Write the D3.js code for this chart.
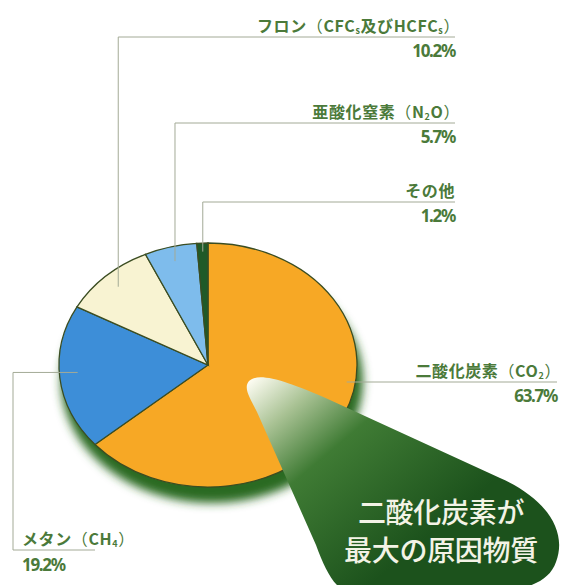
<!DOCTYPE html>
<html>
<head>
<meta charset="utf-8">
<script src="https://cdn.jsdelivr.net/npm/d3@7"></script>
<style>
  body { margin: 0; background: #fff; }
  svg { display: block; }
  .lbl { font-family: "Noto Sans CJK JP", sans-serif; font-weight: 700; fill: #4b7a3a; }
  .pct { font-family: "Noto Sans", sans-serif; font-weight: 700; fill: #4b7a3a; }
</style>
</head>
<body>
<div id="chart"></div>
<script>
// data (order = clockwise from 12 o'clock)
const names = ["二酸化炭素", "メタン", "フロン", "亜酸化窒素", "その他"];
const formulas = [["CO", "2"], ["CH", "4"], ["CFC", "s", "及びHCFC", "s"], ["N", "2", "O"], null];
const values = [63.7, 19.2, 10.2, 5.7, 1.2];
const colors = ["#f7a825", "#3d8ed8", "#f8f3d2", "#7ebcec", "#1f5a28"];
const calloutLines = ["二酸化炭素が", "最大の原因物質"];

var width = 561, height = 585;
var cx = 208, cy = 365, rx = 149, ry = 122;

var svg = d3.select("#chart").append("svg")
    .attr("width", width)
    .attr("height", height);

var defs = svg.append("defs");
var blur = defs.append("filter").attr("id", "blur")
    .attr("x", "-20%").attr("y", "-20%").attr("width", "140%").attr("height", "140%");
blur.append("feGaussianBlur").attr("stdDeviation", 5);

var grad = defs.append("linearGradient").attr("id", "bubble")
    .attr("gradientUnits", "userSpaceOnUse")
    .attr("x1", 250).attr("y1", 382).attr("x2", 400).attr("y2", 560);
[[0, "#fbfbf0"], [0.2, "#a9c294"], [0.45, "#3f7b34"], [1, "#1c521c"]].forEach(function (s) {
    grad.append("stop").attr("offset", s[0]).attr("stop-color", s[1]);
});

// shadow under the pie
svg.append("ellipse")
    .attr("cx", cx + 4).attr("cy", cy + 16)
    .attr("rx", rx + 2).attr("ry", ry)
    .attr("fill", "#2c6a22")
    .attr("filter", "url(#blur)");

var pie = d3.pie().sort(null).value(function (d) { return d; });
var arcs = pie(values);
var arc = d3.arc().innerRadius(0).outerRadius(ry);

var pg = svg.append("g")
    .attr("transform", "translate(" + cx + "," + cy + ") scale(" + (rx / ry) + ",1)");

pg.selectAll("path")
    .data(arcs)
    .enter().append("path")
    .attr("d", arc)
    .attr("fill", function (d, i) { return colors[i]; })
    .attr("stroke", "#3b4d22")
    .attr("stroke-width", 1.3)
    .attr("vector-effect", "non-scaling-stroke");

// point on the ellipse at slice angle a, fraction f of radius
function onPie(a, f) {
    return [cx + rx * f * Math.sin(a), cy - ry * f * Math.cos(a)];
}
function mid(d) { return (d.startAngle + d.endAngle) / 2; }

var lineColor = "#a3aa96";
var leaders = svg.append("g").attr("fill", "none").attr("stroke", lineColor).attr("stroke-width", 1);
var labels = svg.append("g");

function addName(x, y, i, anchor) {
    var t = labels.append("text").attr("class", "lbl")
        .attr("x", x).attr("y", y)
        .attr("text-anchor", anchor)
        .style("font-size", "16px")
        .style("letter-spacing", "0.6px");
    t.append("tspan").text(names[i]);
    var f = formulas[i];
    if (!f) return t;
    t.append("tspan").text("（").style("font-weight", 400);
    var down = false;
    f.forEach(function (p) {
        var sub = (p.length === 1 && /[0-9s]/.test(p));
        var dy = 0;
        if (sub && !down) { dy = 2; down = true; }
        else if (!sub && down) { dy = -2; down = false; }
        t.append("tspan").text(p)
            .style("font-size", sub ? "9px" : "16px")
            .attr("dy", dy);
    });
    t.append("tspan").text("）").attr("dy", down ? -2 : 0).style("font-weight", 400);
    return t;
}
function addPct(x, y, i, anchor) {
    labels.append("text").attr("class", "pct")
        .attr("x", x).attr("y", y)
        .attr("text-anchor", anchor)
        .style("font-size", "17px")
        .style("letter-spacing", "-1.3px")
        .text(values[i] + "%");
}

// top-right labels for フロン, 亜酸化窒素, その他
var rightEnd = 455;
[[2, 37], [3, 123], [4, 202]].forEach(function (r) {
    var i = r[0], ly = r[1];
    var p = onPie(mid(arcs[i]), i === 4 ? 0.93 : 0.88);
    leaders.append("path")
        .attr("d", "M" + p[0] + "," + p[1] + "V" + ly + "H" + rightEnd);
    addName(formulas[i] ? rightEnd + 5 : rightEnd, ly - 5, i, "end");
    addPct(rightEnd, ly + 20, i, "end");
});

// 二酸化炭素 label on the right
var coY = 382;
var coX = cx + rx * 0.94 * Math.sqrt(1 - Math.pow((coY - cy) / ry, 2));
leaders.append("path").attr("d", "M" + coX + "," + coY + "H" + 557);
addName(561, coY - 5, 0, "end");
addPct(557, coY + 20, 0, "end");

// メタン label bottom-left
var mp = onPie(mid(arcs[1]), 0.88);
var mY = 550, mX = 13;
leaders.append("path")
    .attr("d", "M" + mp[0] + "," + (mp[1] - 4) + "H" + mX + "V" + mY + "H" + 95);
addName(22, mY - 5, 1, "start");
addPct(22, mY + 21, 1, "start");

// callout bubble
svg.append("path")
    .attr("d", "M249,381 C258,372 285,380 330,400 L500,478 C545,498 568,530 556,562 C548,585 520,592 480,592 L352,592 C336,592 326,572 316,545 L257,412 C250,398 243,388 249,381 Z")
    .attr("fill", "url(#bubble)");

svg.append("g").selectAll("text")
    .data(calloutLines)
    .enter().append("text")
    .attr("x", 441)
    .attr("y", function (d, i) { return 523 + i * 38; })
    .attr("text-anchor", "middle")
    .style("font-family", "'Noto Sans CJK JP', sans-serif")
    .style("font-size", "28px")
    .style("font-weight", 500)
    .style("letter-spacing", "-0.3px")
    .attr("fill", "#f3f3e6")
    .text(function (d) { return d; });
</script>
</body>
</html>
